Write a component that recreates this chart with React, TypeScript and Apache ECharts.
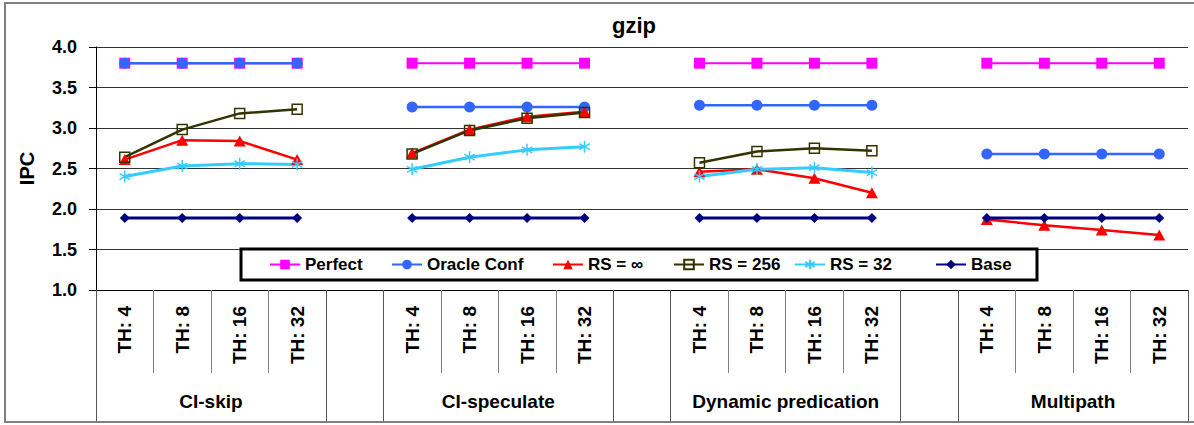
import React, { useEffect, useRef } from 'react';
import * as echarts from 'echarts';

// Benchmark: gzip — IPC per policy and threshold
const groups = ['CI-skip', 'CI-speculate', 'Dynamic predication', 'Multipath'];
const thresholds = ['TH: 4', 'TH: 8', 'TH: 16', 'TH: 32'];

const perfect = [3.8, 3.8, 3.8, 3.8, 3.8, 3.8, 3.8, 3.8, 3.8, 3.8, 3.8, 3.8, 3.8, 3.8, 3.8, 3.8];
const oracleConf = [3.8, 3.8, 3.8, 3.8, 3.26, 3.26, 3.26, 3.26, 3.28, 3.28, 3.28, 3.28, 2.68, 2.68, 2.68, 2.68];
const rsInf = [2.61, 2.85, 2.84, 2.61, 2.69, 2.98, 3.14, 3.2, 2.46, 2.49, 2.38, 2.2, 1.87, 1.8, 1.74, 1.68];
const rs256 = [2.64, 2.98, 3.18, 3.23, 2.68, 2.97, 3.12, 3.19, 2.57, 2.71, 2.75, 2.72, null, null, null, null];
const rs32 = [2.4, 2.53, 2.56, 2.55, 2.49, 2.64, 2.73, 2.77, 2.4, 2.49, 2.51, 2.45, null, null, null, null];
const base = [1.89, 1.89, 1.89, 1.89, 1.89, 1.89, 1.89, 1.89, 1.89, 1.89, 1.89, 1.89, 1.89, 1.89, 1.89, 1.89];

const FONT = "'Liberation Sans', Arial, sans-serif";
const PER_GROUP = thresholds.length;
const SLOT = PER_GROUP + 1; // one blank slot between groups

// Category slots: the thresholds of each group, separated by an empty slot
const categories: string[] = [];
groups.forEach((_, gi) => {
  if (gi > 0) categories.push('');
  thresholds.forEach((t) => categories.push(t));
});
const slotCount = categories.length;

function withGaps(values: (number | null)[]) {
  const out: (number | null)[] = [];
  groups.forEach((_, gi) => {
    if (gi > 0) out.push(null);
    for (let t = 0; t < PER_GROUP; t++) out.push(values[gi * PER_GROUP + t] ?? null);
  });
  return out;
}

// Positions on the helper value axis (0..slotCount) for group labels and dividers
const groupCenters = groups.map((_, gi) => gi * SLOT + PER_GROUP / 2);
const groupEdges: number[] = [];
groups.forEach((_, gi) => {
  groupEdges.push(gi * SLOT, gi * SLOT + PER_GROUP);
});
groupEdges.push(slotCount);

const ASTERISK = 'path://M12 0V24M1.6 6L22.4 18M1.6 18L22.4 6';

const seriesDefs = [
  { name: 'Perfect', data: perfect, color: '#FF00FF', symbol: 'rect', size: 11, width: 2, hollow: false },
  { name: 'Oracle Conf', data: oracleConf, color: '#3366FF', symbol: 'circle', size: 11, width: 2.5, hollow: false },
  { name: 'RS = ∞', data: rsInf, color: '#FF0000', symbol: 'triangle', size: [12, 11], width: 2.5, hollow: false },
  { name: 'RS = 256', data: rs256, color: '#333300', symbol: 'rect', size: 10, width: 2.5, hollow: true },
  { name: 'RS = 32', data: rs32, color: '#33CCFF', symbol: ASTERISK, size: 12, width: 3, hollow: true },
  { name: 'Base', data: base, color: '#000080', symbol: 'diamond', size: 10, width: 3, hollow: false },
];

// Legend box and the left edge of each entry inside it
const LEGEND_BOX = { x: 241, y: 249, width: 796, height: 31 };
const legendItemLefts = [269, 391, 552, 673, 794, 935];

export default function App() {
  const ref = useRef<HTMLDivElement>(null);

  useEffect(() => {
    if (!ref.current) return;
    const chart = echarts.init(ref.current, undefined, { renderer: 'svg' });

    chart.setOption({
      animation: false,
      backgroundColor: '#ffffff',
      title: {
        text: 'gzip',
        left: 612,
        top: 14,
        padding: 0,
        textStyle: { fontFamily: FONT, fontSize: 22, fontWeight: 'bold', color: '#000' },
      },
      graphic: [
        {
          type: 'rect',
          silent: true,
          shape: { x: 5, y: 3, width: 1200, height: 419 },
          style: { fill: 'none', stroke: '#808080', lineWidth: 2 },
        },
        {
          type: 'rect',
          silent: true,
          z: 3,
          shape: { ...LEGEND_BOX },
          style: { fill: '#ffffff', stroke: '#000000', lineWidth: 3 },
        },
      ],
      legend: seriesDefs.map((s, i) => ({
        left: legendItemLefts[i],
        top: LEGEND_BOX.y,
        orient: 'horizontal',
        itemWidth: 30,
        itemHeight: 12,
        itemGap: 0,
        padding: [7, 0, 7, 0],
        z: 4,
        textStyle: { fontFamily: FONT, fontSize: 17, fontWeight: 'bold', color: '#000' },
        data: [s.name],
      })),
      grid: { left: 96, right: 6, top: 47, bottom: 135, containLabel: false },
      xAxis: [
        {
          type: 'category',
          data: categories,
          boundaryGap: true,
          axisLine: { show: true, lineStyle: { color: '#000', width: 1 } },
          axisTick: { show: true, interval: 0, length: 83, lineStyle: { color: '#808080', width: 1 } },
          axisLabel: {
            interval: 0,
            rotate: 90,
            margin: 16,
            fontFamily: FONT,
            fontSize: 19,
            fontWeight: 'bold',
            color: '#000',
          },
          splitLine: { show: false },
        },
        {
          type: 'value',
          position: 'bottom',
          min: 0,
          max: slotCount,
          axisLine: { show: false },
          splitLine: { show: false },
          axisTick: { show: true, customValues: groupEdges, length: 131, lineStyle: { color: '#555', width: 1 } },
          axisLabel: {
            show: true,
            customValues: groupCenters,
            margin: 102,
            fontFamily: FONT,
            fontSize: 19,
            fontWeight: 'bold',
            color: '#000',
            formatter: (v: number) => {
              const gi = groupCenters.indexOf(v);
              return gi >= 0 ? groups[gi] : '';
            },
          },
        },
      ],
      yAxis: {
        type: 'value',
        min: 1,
        max: 4,
        interval: 0.5,
        name: 'IPC',
        nameLocation: 'middle',
        nameGap: 59,
        nameTextStyle: { fontFamily: FONT, fontSize: 20, fontWeight: 'bold', color: '#000' },
        axisLine: { show: true, lineStyle: { color: '#000', width: 1 } },
        axisTick: { show: true, length: 7, lineStyle: { color: '#000', width: 1 } },
        axisLabel: {
          margin: 19,
          fontFamily: FONT,
          fontSize: 18,
          fontWeight: 'bold',
          color: '#000',
          formatter: (v: number) => v.toFixed(1),
        },
        splitLine: { show: true, lineStyle: { color: '#333', width: 1 } },
      },
      series: seriesDefs.map((s) => ({
        name: s.name,
        type: 'line',
        xAxisIndex: 0,
        yAxisIndex: 0,
        data: withGaps(s.data),
        connectNulls: false,
        symbol: s.symbol,
        symbolSize: s.size,
        symbolKeepAspect: true,
        showAllSymbol: true,
        lineStyle: { color: s.color, width: s.width },
        itemStyle: s.hollow
          ? { color: 'rgba(0,0,0,0)', borderColor: s.color, borderWidth: 1.5 }
          : { color: s.color, borderColor: s.color, borderWidth: 0 },
        emphasis: { disabled: true },
      })),
    });

    return () => chart.dispose();
  }, []);

  return <div ref={ref} style={{ position: 'absolute', left: 0, top: 0, width: 1194, height: 425 }} />;
}
